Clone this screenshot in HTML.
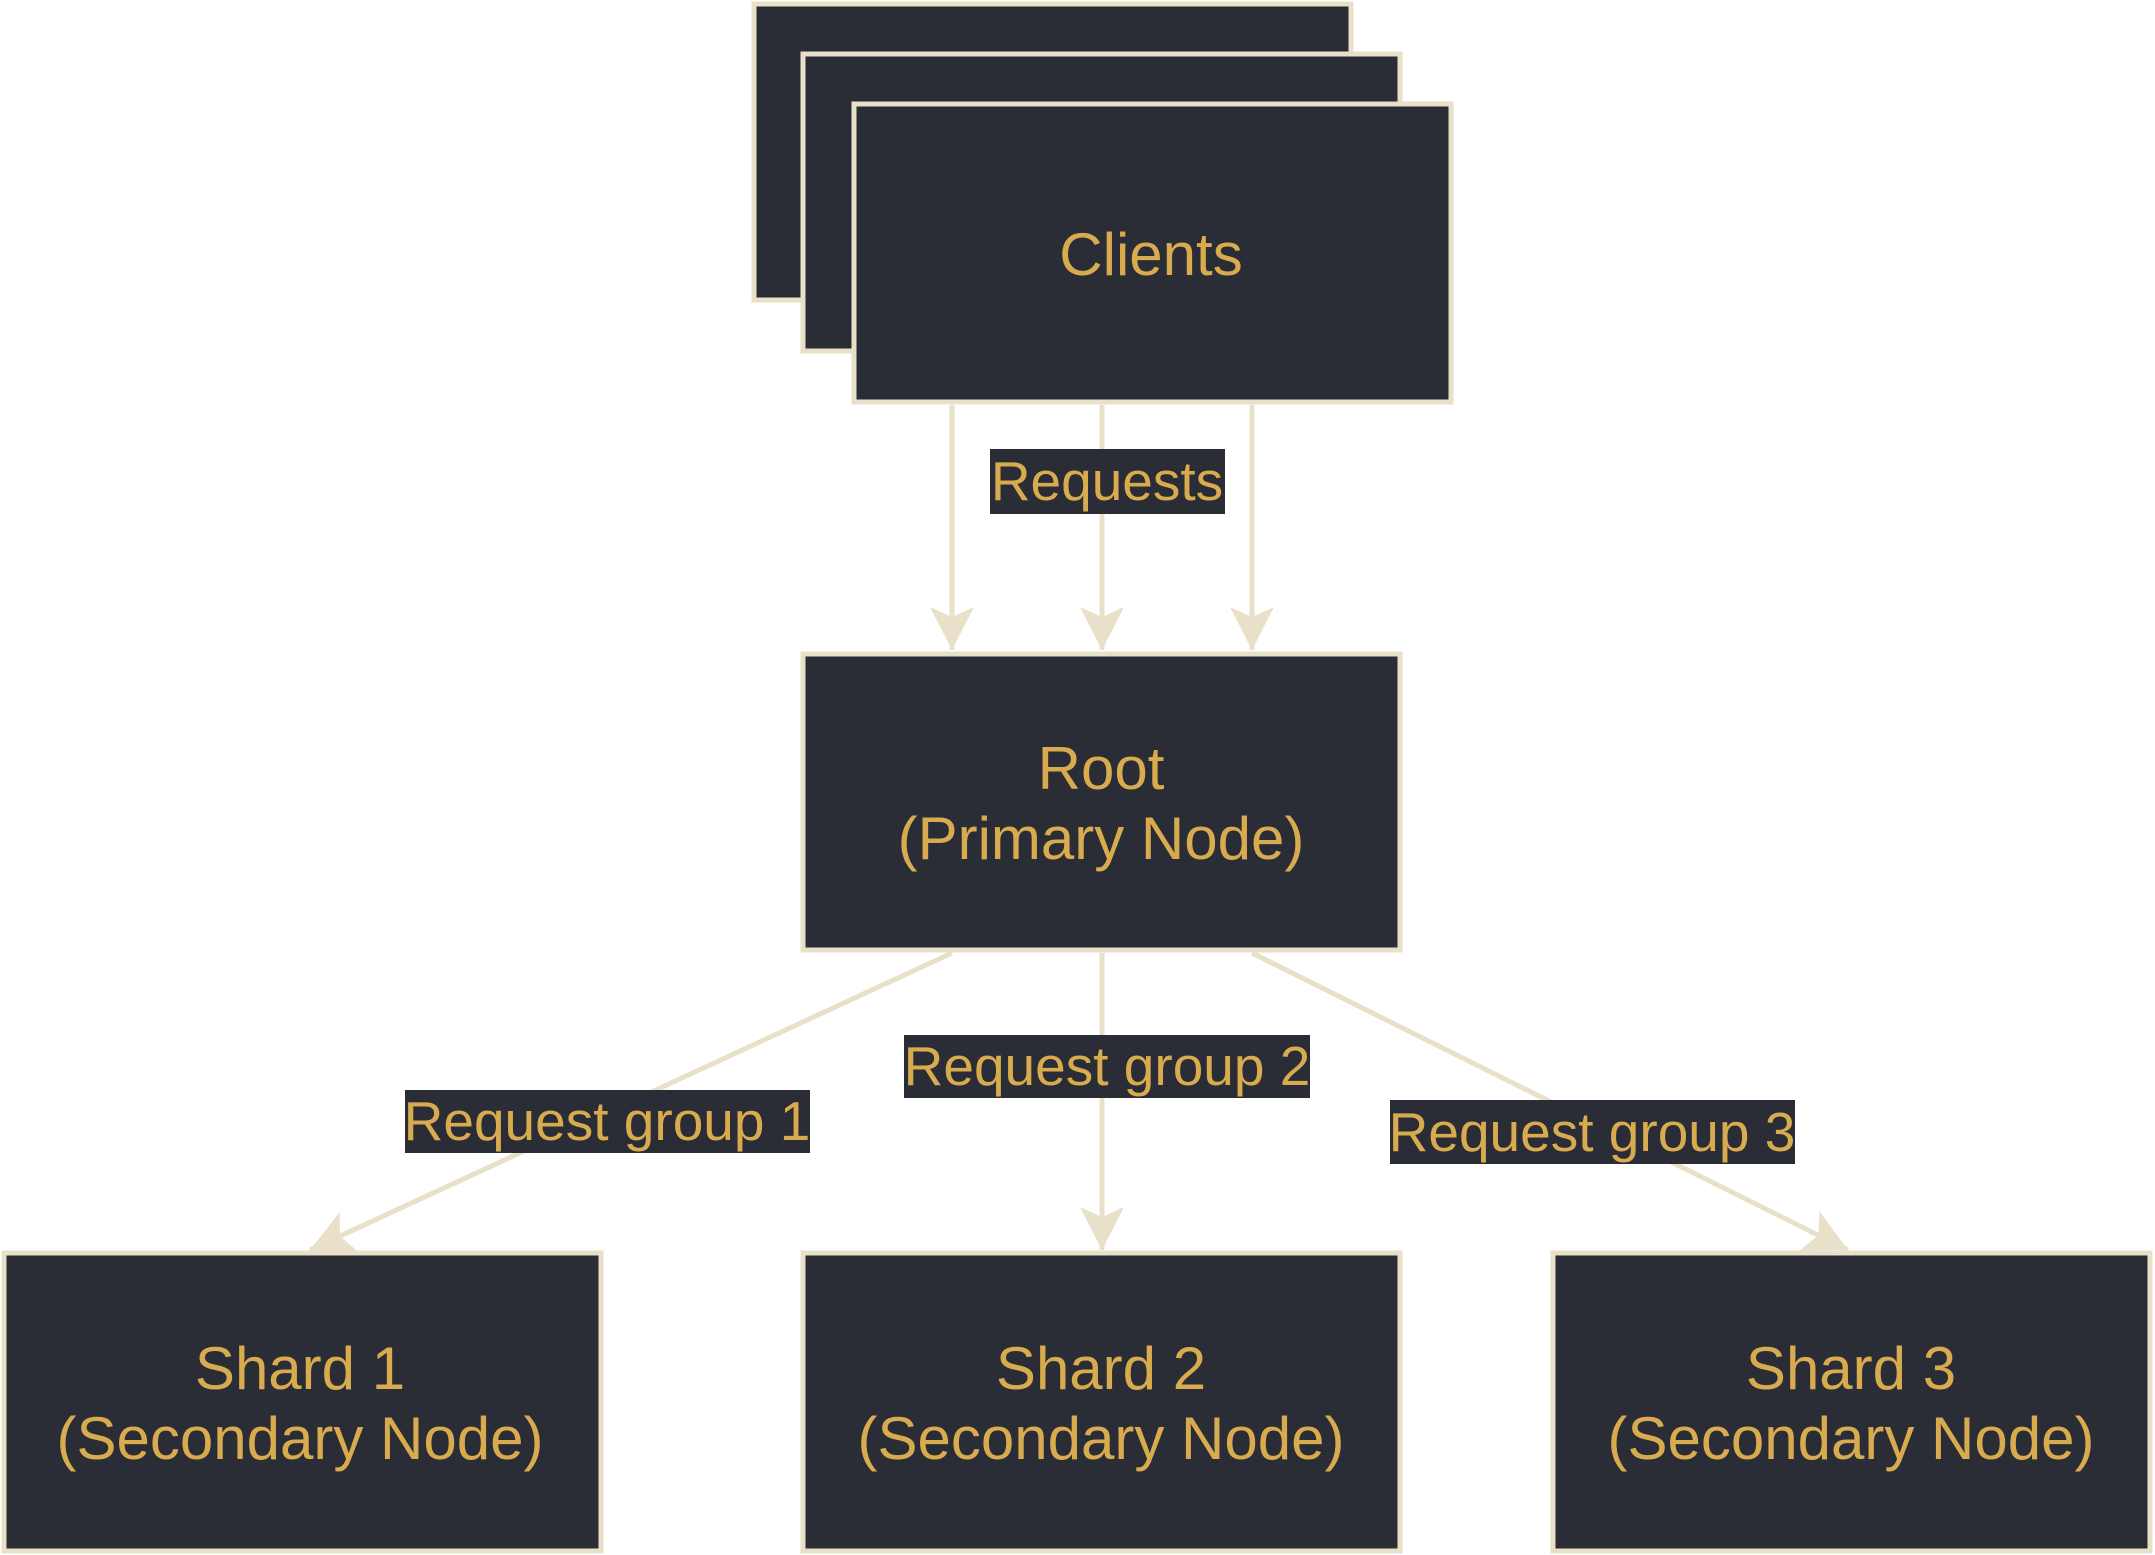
<!DOCTYPE html>
<html><head><meta charset="utf-8"><style>
html,body{margin:0;padding:0;background:#fff;}
svg{display:block;}
text{font-family:"Liberation Sans",sans-serif;fill:#d9ab4f;}
</style></head><body>
<svg width="2155" height="1555" viewBox="0 0 2155 1555" xmlns="http://www.w3.org/2000/svg">
<defs>
<marker id="ah" markerUnits="userSpaceOnUse" markerWidth="50" markerHeight="50" refX="43" refY="22" orient="auto">
<path d="M0,0 L43,22 L0,44 L10,22 Z" fill="#e8e0c8"/>
</marker>
</defs>
<g fill="#2a2d36" stroke="#e8e0c8" stroke-width="5">
<rect x="754" y="4" width="597" height="296"/>
<rect x="803" y="54" width="597" height="297"/>
<rect x="854" y="104" width="597" height="298"/>
<rect x="803" y="654" width="597" height="296"/>
<rect x="4" y="1253" width="597" height="298"/>
<rect x="803" y="1253" width="597" height="298"/>
<rect x="1553" y="1253" width="597" height="298"/>
</g>
<g stroke="#e8e0c8" stroke-width="5" fill="none" marker-end="url(#ah)">
<line x1="952" y1="405" x2="952" y2="650"/>
<line x1="1102" y1="405" x2="1102" y2="650"/>
<line x1="1252" y1="405" x2="1252" y2="650"/>
<line x1="952" y1="953" x2="310" y2="1250"/>
<line x1="1102" y1="953" x2="1102" y2="1250"/>
<line x1="1252" y1="953" x2="1848" y2="1250"/>
</g>
<g fill="#2a2d36">
<rect x="990" y="449" width="235" height="65"/>
<rect x="405" y="1090" width="405" height="63"/>
<rect x="904" y="1035" width="406" height="63"/>
<rect x="1390" y="1100" width="405" height="64"/>
</g>
<g font-size="55" text-anchor="middle">
<text x="1107" y="500">Requests</text>
<text x="607" y="1140">Request group 1</text>
<text x="1107" y="1085">Request group 2</text>
<text x="1592" y="1151">Request group 3</text>
</g>
<g font-size="60" text-anchor="middle">
<text x="1151" y="275">Clients</text>
<text x="1101" y="789">Root</text>
<text x="1101" y="859">(Primary Node)</text>
<text x="300" y="1389">Shard 1</text>
<text x="300" y="1459">(Secondary Node)</text>
<text x="1101" y="1389">Shard 2</text>
<text x="1101" y="1459">(Secondary Node)</text>
<text x="1851" y="1389">Shard 3</text>
<text x="1851" y="1459">(Secondary Node)</text>
</g>
</svg>
</body></html>
